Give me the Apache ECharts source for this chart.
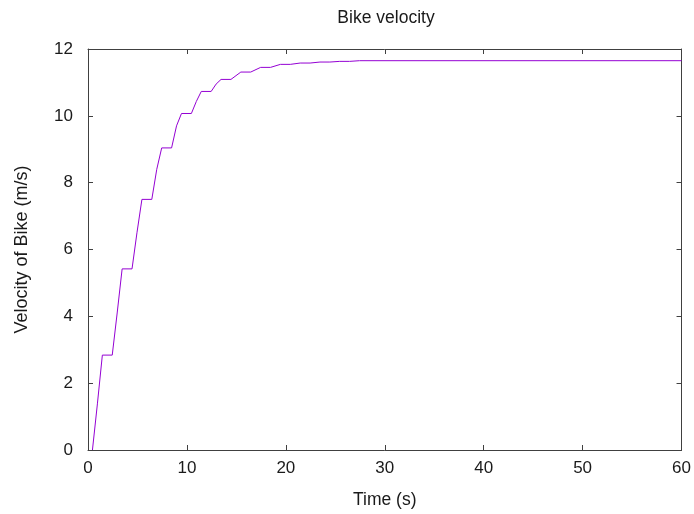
<!DOCTYPE html>
<html><head><meta charset="utf-8">
<script src="https://cdn.jsdelivr.net/npm/echarts@6/dist/echarts.min.js"></script>
<style>html,body{margin:0;padding:0;background:#fff}#c{width:694px;height:514px}</style>
</head><body><div id="c"></div>
<script>
var times = [0.45, 0.95, 1.45, 2.45, 2.95, 3.45, 4.45, 4.95, 5.45, 6.45, 6.95, 7.45, 8.45, 8.95, 9.45, 10.45, 10.95, 11.45, 12.45, 12.95, 13.45, 14.45, 15.45, 16.45, 17.45, 18.45, 19.45, 20.45, 21.45, 22.45, 23.45, 24.45, 25.45, 26.45, 27.45, 60];
var velocity = [0, 1.38, 2.84, 2.84, 4.1, 5.42, 5.42, 6.5, 7.50, 7.50, 8.4, 9.04, 9.04, 9.7, 10.07, 10.07, 10.43, 10.73, 10.73, 10.95, 11.09, 11.09, 11.31, 11.31, 11.45, 11.45, 11.54, 11.54, 11.58, 11.58, 11.61, 11.61, 11.63, 11.63, 11.65, 11.65];
var xTicks = [0, 10, 20, 30, 40, 50, 60];
var yTicks = [0, 2, 4, 6, 8, 10, 12];
var chartTitle = 'Bike velocity';
var xName = 'Time (s)';
var yName = 'Velocity of Bike (m/s)';

var data = times.map(function (t, i) { return [t, velocity[i]]; });
var font = 'Liberation Sans, Arial, sans-serif';
var axisCol = '#404040';
var txtCol = '#1a1a1a';
function ax(pos, labels, ticks, margin, extra) {
  var o = {
    type: 'value', position: pos,
    min: ticks[0], max: ticks[ticks.length - 1], interval: ticks[1] - ticks[0],
    axisLine: { show: true, onZero: false, lineStyle: { color: axisCol, width: 1 } },
    axisTick: { show: true, inside: true, length: 5, lineStyle: { color: axisCol } },
    splitLine: { show: false },
    axisLabel: { show: labels, color: txtCol, fontSize: 17, fontFamily: font, margin: margin }
  };
  for (var k in extra) o[k] = extra[k];
  return o;
}
var chart = echarts.init(document.getElementById('c'));
chart.setOption({
  animation: false,
  title: { text: chartTitle, left: 381, textAlign: 'center', top: 4, textStyle: { fontSize: 17.5, fontWeight: 'normal', color: txtCol, fontFamily: font } },
  grid: { left: 88, right: 11, top: 49, bottom: 63, containLabel: false },
  xAxis: [
    ax('bottom', true, xTicks, 10, { name: xName, nameLocation: 'middle', nameGap: 41, nameTextStyle: { fontSize: 17.5, color: txtCol, fontFamily: font } }),
    ax('top', false, xTicks, 8, {})
  ],
  yAxis: [
    ax('left', true, yTicks, 15, { name: yName, nameLocation: 'middle', nameGap: 57, nameTextStyle: { fontSize: 18, color: txtCol, fontFamily: font } }),
    ax('right', false, yTicks, 8, {})
  ],
  series: [{
    type: 'line', data: data, showSymbol: false, symbol: 'none',
    lineStyle: { color: '#9400d3', width: 1 }, itemStyle: { color: '#9400d3' }
  }]
});
</script></body></html>
